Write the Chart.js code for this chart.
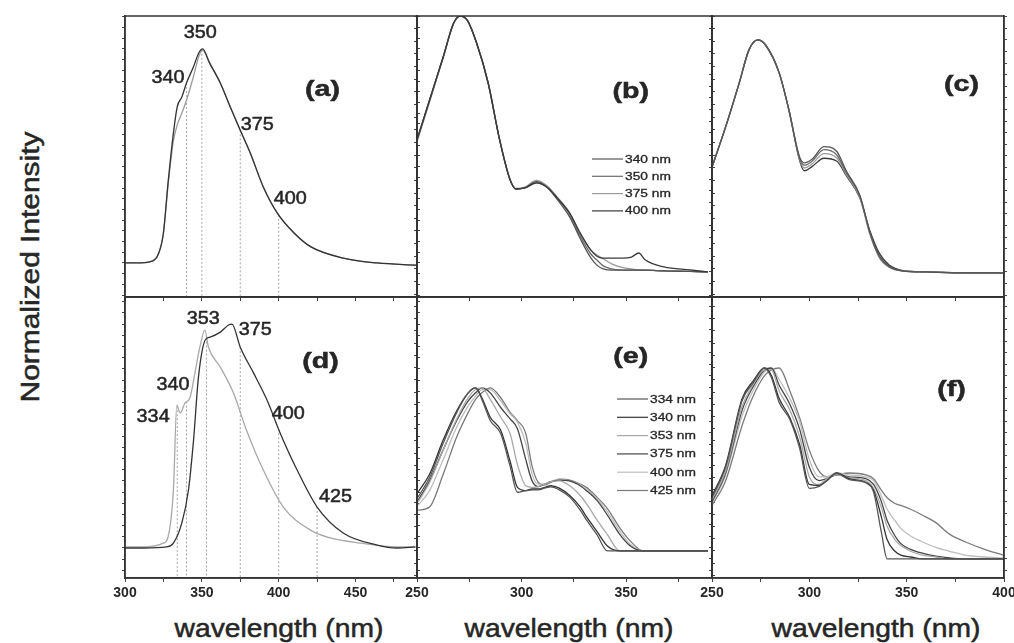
<!DOCTYPE html>
<html>
<head>
<meta charset="utf-8">
<script src="https://cdn.jsdelivr.net/npm/chart.js@4.4.1/dist/chart.umd.min.js"></script>
<style>
  body { margin: 0; background: #fff; }
  #fig { position: relative; width: 1014px; height: 643px; overflow: hidden;
         font-family: "Liberation Sans", Arial, sans-serif; color: #262626; }
  #fig canvas { position: absolute; }
  .xlab { position: absolute; top: 628px; font-size: 25px; white-space: nowrap;
          -webkit-text-stroke: 0.5px #262626;
          transform: translate(-50%, -50%) scaleX(1.13); }
  .ylab { position: absolute; left: 30px; top: 267px; font-size: 26px; white-space: nowrap;
          -webkit-text-stroke: 0.5px #262626;
          transform: translate(-50%, -50%) rotate(-90deg) scaleX(1.15); }
</style>
</head>
<body>
<div id="fig">
  <div class="ylab">Normalized Intensity</div>
  <div class="xlab" style="left:279px">wavelength (nm)</div>
  <div class="xlab" style="left:569px">wavelength (nm)</div>
  <div class="xlab" style="left:876px">wavelength (nm)</div>
</div>
<script>
// (a) emission, two overlapping spectra
const aNm = [300, 308, 316, 322, 325, 328, 331.5, 334, 337, 340, 344.5, 348, 350.5, 355, 362, 368.5, 374, 381.5, 390, 399, 410, 421, 442, 464, 490];
const aEmDark = [0, 0, 0.005, 0.047, 0.14, 0.374, 0.607, 0.73, 0.776, 0.841, 0.916, 0.981, 1.0, 0.935, 0.841, 0.729, 0.636, 0.514, 0.355, 0.234, 0.14, 0.075, 0.023, 0, -0.01];
const aEmLight = [0, 0, 0.005, 0.047, 0.14, 0.36, 0.57, 0.645, 0.7, 0.76, 0.87, 0.965, 0.995, 0.935, 0.841, 0.729, 0.636, 0.514, 0.355, 0.234, 0.14, 0.075, 0.023, 0, -0.01];
const aMarks = [340, 350, 375, 400];

// (d) emission
const dNm375 = [300, 312, 327, 331.5, 337, 341.3, 344.6, 347.8, 352.2, 355.4, 362, 367.4, 369.6, 375, 383.7, 392.4, 401, 412, 425, 442, 464, 477, 489];
const dEm375 = [0, 0, 0.005, 0.022, 0.112, 0.259, 0.482, 0.763, 0.929, 0.942, 0.964, 0.996, 1.0, 0.897, 0.781, 0.661, 0.513, 0.348, 0.183, 0.067, 0.013, 0, 0.005];
const dNm353 = [300, 312, 325, 328, 331.5, 333.7, 335.9, 339, 342.2, 345.5, 348.7, 352, 354.3, 362, 370.6, 379, 390, 403, 420.7, 433.7, 453, 477, 489];
const dEm353 = [0.005, 0.005, 0.022, 0.049, 0.259, 0.638, 0.603, 0.647, 0.67, 0.781, 0.897, 0.973, 0.897, 0.808, 0.692, 0.527, 0.348, 0.183, 0.08, 0.045, 0.022, 0.005, 0.005];
const dMarks = [334, 340, 353, 375, 400, 425];

// (b) excitation spectra
const bExc = [340, 350, 375, 400];
const bNm = [249.5, 256, 262.5, 267.5, 270.5, 274, 278.5, 284, 289.5, 294.5, 297.5, 301.5, 307, 312, 317, 323, 328, 333, 336, 339, 343, 348.5, 352.5, 356, 359, 368, 380.5, 389];
const b340 = [0.498, 0.668, 0.838, 0.972, 1.0, 0.984, 0.893, 0.735, 0.51, 0.352, 0.316, 0.32, 0.345, 0.324, 0.275, 0.205, 0.12, 0.045, 0.015, 0.0, -0.005, -0.005, -0.005, -0.005, -0.005, -0.008, -0.01, -0.012];
const b350 = [0.495, 0.665, 0.835, 0.97, 1.0, 0.984, 0.893, 0.735, 0.51, 0.352, 0.316, 0.32, 0.34, 0.324, 0.28, 0.215, 0.13, 0.06, 0.035, 0.012, 0.0, -0.005, -0.005, -0.005, -0.005, -0.008, -0.01, -0.012];
const b375 = [0.49, 0.66, 0.835, 0.97, 1.0, 0.985, 0.893, 0.737, 0.512, 0.355, 0.318, 0.323, 0.35, 0.33, 0.285, 0.22, 0.14, 0.075, 0.055, 0.04, 0.02, 0.005, 0.0, -0.005, -0.005, -0.008, -0.01, -0.012];
const b400 = [0.498, 0.668, 0.838, 0.972, 1.0, 0.984, 0.893, 0.735, 0.51, 0.352, 0.316, 0.32, 0.34, 0.324, 0.281, 0.221, 0.142, 0.075, 0.05, 0.043, 0.043, 0.043, 0.047, 0.063, 0.036, 0.008, -0.004, -0.012];

// (c) excitation spectra
const cNm = [249.5, 257, 264, 269, 273.5, 277.5, 284.5, 289.5, 295, 297.5, 301.5, 307.5, 314, 319, 326, 331, 336, 341, 348, 360, 380, 399.5];
const c340 = [0.44, 0.625, 0.815, 0.957, 1.0, 0.978, 0.858, 0.698, 0.496, 0.47, 0.487, 0.54, 0.52, 0.435, 0.33, 0.175, 0.07, 0.025, 0.005, 0, -0.004, -0.004];
const c350 = [0.44, 0.625, 0.815, 0.957, 1.0, 0.978, 0.858, 0.698, 0.49, 0.46, 0.478, 0.527, 0.505, 0.428, 0.325, 0.17, 0.065, 0.022, 0.004, 0, -0.004, -0.004];
const c375 = [0.44, 0.625, 0.815, 0.957, 1.0, 0.978, 0.858, 0.698, 0.485, 0.448, 0.466, 0.51, 0.492, 0.42, 0.32, 0.165, 0.06, 0.02, 0.004, 0, -0.004, -0.004];
const c400 = [0.44, 0.625, 0.815, 0.957, 1.0, 0.978, 0.858, 0.698, 0.48, 0.436, 0.455, 0.49, 0.478, 0.415, 0.318, 0.18, 0.08, 0.03, 0.006, 0, -0.004, -0.004];

// (e) excitation spectra
const eExc = [334, 340, 353, 375, 400, 425];
const eNm = [250.5, 256, 262.5, 269, 274.5, 278, 281, 285, 290, 294.5, 298, 302, 305, 308, 311, 314, 318, 323, 328, 331, 336, 341, 347, 352, 358, 370, 389];
const e334 = [0.33, 0.45, 0.66, 0.85, 0.97, 1.0, 0.93, 0.80, 0.72, 0.52, 0.36, 0.37, 0.375, 0.375, 0.385, 0.393, 0.375, 0.33, 0.25, 0.19, 0.1, 0.0, 0, 0, 0, 0, 0];
const e340 = [0.36, 0.47, 0.68, 0.86, 0.97, 1.0, 0.94, 0.82, 0.74, 0.55, 0.39, 0.37, 0.38, 0.38, 0.39, 0.40, 0.385, 0.34, 0.27, 0.21, 0.12, 0.03, 0, 0, 0, 0, 0];
const e353 = [0.30, 0.42, 0.62, 0.81, 0.94, 0.99, 1.0, 0.93, 0.82, 0.72, 0.53, 0.40, 0.39, 0.395, 0.41, 0.425, 0.43, 0.40, 0.34, 0.29, 0.19, 0.10, 0, 0, 0, 0, 0];
const e375 = [0.31, 0.43, 0.62, 0.80, 0.92, 0.97, 1.0, 0.97, 0.88, 0.81, 0.75, 0.56, 0.43, 0.395, 0.41, 0.425, 0.435, 0.43, 0.40, 0.37, 0.31, 0.22, 0.10, 0.03, 0, 0, 0];
const e400 = [0.28, 0.37, 0.56, 0.76, 0.89, 0.95, 0.99, 0.99, 0.92, 0.84, 0.79, 0.66, 0.47, 0.41, 0.41, 0.425, 0.44, 0.43, 0.405, 0.38, 0.32, 0.24, 0.12, 0.04, 0, 0, 0];
const e425 = [0.25, 0.27, 0.47, 0.70, 0.85, 0.93, 0.97, 1.0, 0.94, 0.85, 0.80, 0.72, 0.52, 0.42, 0.405, 0.42, 0.44, 0.435, 0.41, 0.39, 0.33, 0.26, 0.14, 0.06, 0, 0, 0];

// (f) excitation spectra
const fNm = [250, 257, 265.5, 271, 277, 280.5, 284.5, 290, 295, 300, 305, 309, 314, 320.5, 329, 333, 337, 340, 344, 347, 352, 358, 365, 372, 380, 390, 399.5];
const f334 = [0.32, 0.48, 0.83, 0.92, 1.0, 0.95, 0.82, 0.73, 0.58, 0.37, 0.38, 0.41, 0.45, 0.415, 0.40, 0.35, 0.14, 0, 0, 0, 0, 0, 0, 0, 0, 0, 0];
const f340 = [0.33, 0.49, 0.84, 0.93, 1.0, 0.96, 0.84, 0.74, 0.60, 0.39, 0.385, 0.41, 0.45, 0.42, 0.40, 0.36, 0.22, 0.10, 0.04, 0.02, 0.01, 0, 0, 0, 0, 0, 0];
const f353 = [0.31, 0.46, 0.80, 0.91, 0.99, 0.99, 0.88, 0.78, 0.64, 0.43, 0.39, 0.42, 0.44, 0.425, 0.41, 0.37, 0.27, 0.17, 0.10, 0.07, 0.04, 0.02, 0.01, 0, 0, 0, 0];
const f375 = [0.30, 0.45, 0.78, 0.90, 0.99, 1.0, 0.91, 0.81, 0.68, 0.48, 0.41, 0.42, 0.44, 0.43, 0.42, 0.39, 0.30, 0.20, 0.12, 0.08, 0.05, 0.03, 0.015, 0.005, 0, 0, 0];
const f400 = [0.29, 0.44, 0.75, 0.88, 0.98, 1.0, 0.94, 0.84, 0.72, 0.52, 0.43, 0.43, 0.45, 0.44, 0.43, 0.41, 0.33, 0.26, 0.20, 0.16, 0.12, 0.09, 0.06, 0.04, 0.02, 0.01, 0.005];
const f425 = [0.28, 0.41, 0.70, 0.85, 0.96, 0.99, 1.0, 0.88, 0.74, 0.57, 0.46, 0.43, 0.44, 0.45, 0.44, 0.42, 0.36, 0.32, 0.29, 0.28, 0.26, 0.23, 0.19, 0.13, 0.09, 0.05, 0.02];

const FONT = '"Liberation Sans", Arial, sans-serif';
const TICK_FONT = '"Liberation Sans Narrow", "Liberation Sans", Arial, sans-serif';
const INK = '#262626';
const GREYS6 = ['#555', '#333', '#a8a8a8', '#444', '#bdbdbd', '#7a7a7a'];
const GREYS4 = ['#555', '#6a6a6a', '#9c9c9c', '#3a3a3a'];

function valueAt(xs, ys, x) {
  for (let i = 1; i < xs.length; i++) {
    if (x <= xs[i]) {
      const t = (x - xs[i - 1]) / (xs[i] - xs[i - 1]);
      return ys[i - 1] + t * (ys[i] - ys[i - 1]);
    }
  }
  return ys[ys.length - 1];
}

const label = (text, x, y) => ({ text, x, y, size: 18, bold: false, stretch: 1.1 });
const tag = (text, x, y) => ({ text, x, y, size: 22, bold: true, stretch: 1.3 });

const aNotePos = [[328, 0.864], [348.9, 1.075], [386, 0.645], [407.6, 0.299]];
const dNotePos = [[318.3, 0.585], [331.3, 0.728], [350.9, 1.022], [384.8, 0.973], [406.3, 0.598], [437, 0.228]];

const panels = [
  { box: [125, 16, 417, 297], bottom: false, x: [300, 490], y: [-0.159, 1.154], yStep: 0.05,
    series: [{ xs: aNm, ys: aEmDark, color: '#333' }, { xs: aNm, ys: aEmLight, color: '#9a9a9a' }],
    drops: aMarks.map(m => ({ x: m, top: valueAt(aNm, aEmDark, m) })),
    notes: aMarks.map((m, i) => label(String(m), aNotePos[i][0], aNotePos[i][1])).concat([tag('(a)', 428.5, 0.808)]) },
  { box: [417, 16, 712, 297], bottom: false, x: [250, 391], y: [-0.111, 1.0], yStep: 0.05,
    series: [b400, b340, b350, b375].map((ys, i) => ({ xs: bNm, ys, color: [GREYS4[3], GREYS4[0], GREYS4[1], GREYS4[2]][i] })),
    drops: [],
    notes: [tag('(b)', 352.2, 0.70)],
    legend: { items: bExc.map((v, i) => ({ text: v + ' nm', color: GREYS4[i] })), left: 175, top: 143, gap: 17.3 } },
  { box: [712, 16, 1004, 297], bottom: false, x: [250, 400], y: [-0.108, 1.103], yStep: 0.05,
    series: [c340, c350, c375, c400].map((ys, i) => ({ xs: cNm, ys, color: GREYS4[i] })),
    drops: [],
    notes: [tag('(c)', 378.2, 0.806)] },
  { box: [125, 297, 417, 578], bottom: true, x: [300, 490], y: [-0.134, 1.121], yStep: 0.05,
    series: [{ xs: dNm375, ys: dEm375, color: '#333' }, { xs: dNm353, ys: dEm353, color: '#a8a8a8' }],
    drops: dMarks.map(m => ({ x: m, top: m <= 353 ? valueAt(dNm353, dEm353, m) : valueAt(dNm375, dEm375, m) })),
    notes: dMarks.map((m, i) => label(String(m), dNotePos[i][0], dNotePos[i][1])).concat([tag('(d)', 427.2, 0.83)]) },
  { box: [417, 297, 712, 578], bottom: true, x: [250, 391], y: [-0.166, 1.558], yStep: 0.075,
    series: [e334, e340, e353, e375, e400, e425].map((ys, i) => ({ xs: eNm, ys, color: GREYS6[i] })),
    drops: [],
    notes: [tag('(e)', 352.2, 1.192)],
    legend: { items: eExc.map((v, i) => ({ text: v + ' nm', color: GREYS6[i] })), left: 200, top: 102, gap: 18.3 } },
  { box: [712, 297, 1004, 578], bottom: true, x: [250, 400], y: [-0.1, 1.372], yStep: 0.06,
    series: [f334, f340, f353, f375, f400, f425].map((ys, i) => ({ xs: fNm, ys, color: GREYS6[i] })),
    drops: [],
    notes: [tag('(f)', 373, 0.885)] }
];

const fig = document.getElementById('fig');

function makePanel(p) {
  const L = 20, R = 20, T = 10, B = p.bottom ? 40 : 10;
  const [x0, y0, x1, y1] = p.box;
  const cv = document.createElement('canvas');
  cv.width = x1 - x0 + L + R;
  cv.height = y1 - y0 + T + B;
  cv.style.left = (x0 - L) + 'px';
  cv.style.top = (y0 - T) + 'px';
  fig.appendChild(cv);

  const datasets = p.series.map(s => ({
    data: s.xs.map((x, i) => ({ x, y: s.ys[i] })),
    borderColor: s.color, borderWidth: 1.3, pointRadius: 0, fill: false,
    cubicInterpolationMode: 'monotone'
  }));
  // dotted drop lines from the curve down to the axis
  p.drops.forEach(d => datasets.push({
    data: [{ x: d.x, y: d.top }, { x: d.x, y: p.y[0] - 0.2 }],
    borderColor: '#a5a5a5', borderWidth: 1, borderDash: [2, 2], pointRadius: 0, fill: false
  }));

  const axisY = (pos, w) => ({
    type: 'linear', position: pos, min: p.y[0], max: p.y[1],
    afterFit: s => { s.width = w; },
    border: { display: true, color: '#333', width: 1.5 },
    grid: { drawOnChartArea: false, color: '#444', tickLength: 3, lineWidth: 1 },
    ticks: { display: false, stepSize: p.yStep, includeBounds: false }
  });

  const overlay = {
    id: 'overlay',
    afterDatasetsDraw(chart) {
      const { ctx, chartArea: a } = chart;
      const sx = chart.scales.x, sy = chart.scales.y;
      ctx.save();
      ctx.strokeStyle = '#333';
      ctx.lineWidth = 1.5;
      ctx.strokeRect(a.left, a.top, a.right - a.left, a.bottom - a.top);
      ctx.fillStyle = INK;
      ctx.strokeStyle = INK;
      ctx.lineWidth = 0.5;
      ctx.textAlign = 'center';
      ctx.textBaseline = 'middle';
      p.notes.forEach(n => {
        ctx.save();
        ctx.font = (n.bold ? 'bold ' : '') + n.size + 'px ' + FONT;
        ctx.translate(sx.getPixelForValue(n.x), sy.getPixelForValue(n.y));
        ctx.scale(n.stretch, 1);
        ctx.fillText(n.text, 0, 0);
        ctx.strokeText(n.text, 0, 0);
        ctx.restore();
      });
      if (p.legend) {
        const lg = p.legend;
        lg.items.forEach((it, i) => {
          const yy = a.top + lg.top + i * lg.gap;
          ctx.strokeStyle = it.color;
          ctx.lineWidth = 1.2;
          ctx.beginPath();
          ctx.moveTo(a.left + lg.left, yy);
          ctx.lineTo(a.left + lg.left + 31, yy);
          ctx.stroke();
          ctx.save();
          ctx.font = '11px ' + FONT;
          ctx.textAlign = 'left';
          ctx.translate(a.left + lg.left + 33, yy);
          ctx.scale(1.25, 1);
          ctx.fillStyle = INK;
          ctx.strokeStyle = INK;
          ctx.lineWidth = 0.3;
          ctx.fillText(it.text, 0, 0.5);
          ctx.strokeText(it.text, 0, 0.5);
          ctx.restore();
        });
      }
      ctx.restore();
    }
  };

  new Chart(cv, {
    type: 'line',
    data: { datasets },
    options: {
      responsive: false, animation: false, devicePixelRatio: 1,
      layout: { padding: { top: T, left: 0, right: 0, bottom: 0 } },
      plugins: { legend: { display: false }, tooltip: { enabled: false } },
      scales: {
        x: {
          type: 'linear', min: p.x[0], max: p.x[1],
          afterFit: s => { s.height = B; },
          border: { display: true, color: '#333', width: 1.5 },
          grid: { drawOnChartArea: false, color: '#444', tickLength: 4, lineWidth: 1 },
          ticks: {
            display: p.bottom, stepSize: 25, includeBounds: false, autoSkip: false,
            maxRotation: 0, padding: 3, color: INK,
            font: { family: TICK_FONT, size: 14, weight: 'bold' },
            callback: v => (v % 50 === 0 ? String(v) : '')
          }
        },
        y: axisY('left', L),
        y2: axisY('right', R)
      }
    },
    plugins: [overlay]
  });
}

panels.forEach(makePanel);
</script>
</body>
</html>
